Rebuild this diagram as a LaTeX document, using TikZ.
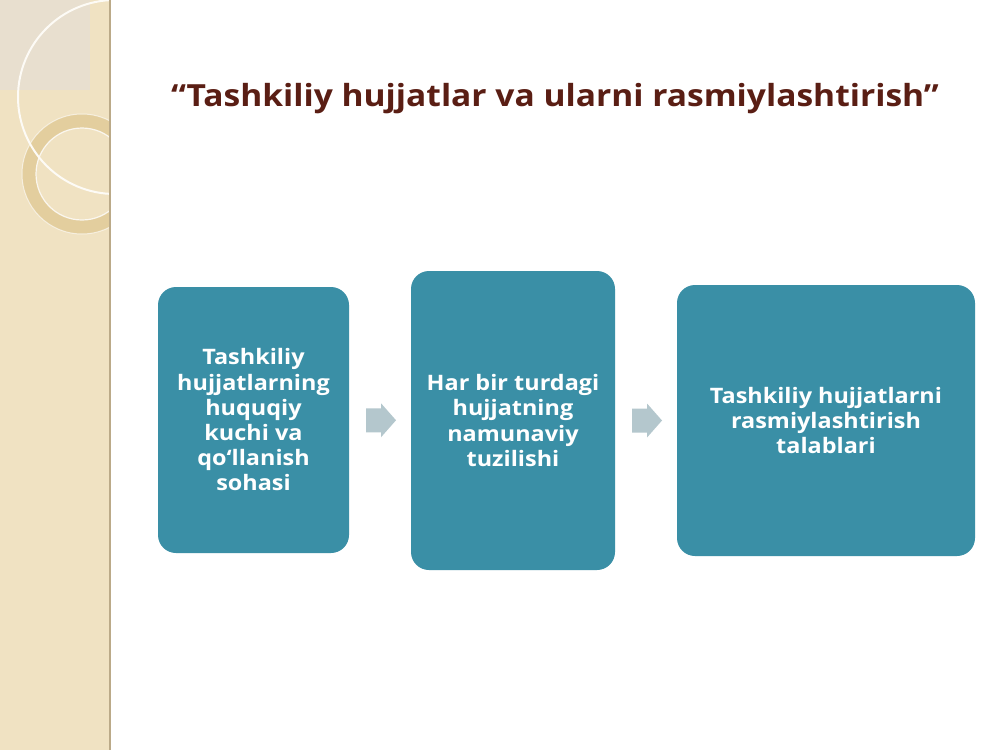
\documentclass[tikz,border=0pt]{standalone}
\usepackage{fontspec}
\setmainfont[FakeStretch=1.1]{Open Sans}
\usetikzlibrary{calc}
\definecolor{teal1}{HTML}{3A8FA6}
\definecolor{arrowc}{HTML}{B4C7CD}
\definecolor{titlec}{HTML}{5A1E14}
\definecolor{stripc}{HTML}{F0E2C2}
\definecolor{stripgray}{HTML}{E8DFCF}
\definecolor{ringc}{HTML}{E3CE9E}
\definecolor{edgec}{HTML}{BBAA88}
\tikzset{
  stepbox/.style={fill=teal1, rounded corners=18pt, text=white, align=center,
    font=\fontsize{21.3}{25.2}\selectfont\bfseries, inner sep=0pt},
  blockarrow/.style={fill=arrowc, draw=none},
  titletext/.style={font=\fontsize{30.5}{36}\selectfont\bfseries, inner sep=0pt}
}
\begin{document}
\begin{tikzpicture}[x=1pt,y=-1pt]
\useasboundingbox (0,0) rectangle (1000,750);
\fill[white] (0,0) rectangle (1000,750);
% left decorative strip
\fill[stripc] (0,0) rectangle (110,750);
\begin{scope}
  \clip (0,0) rectangle (109,750);
  \fill[stripgray] (0,0) rectangle (90,90);
  \fill[ringc, even odd rule] (82,174) circle[radius=60] (82,174) circle[radius=46];
  \draw[white, line width=1.2pt, opacity=0.8] (82,174) circle[radius=46];
  \draw[white, line width=1pt, opacity=0.6] (82,174) circle[radius=60];
  \draw[white!85!stripc, line width=2pt] (115,97) circle[radius=97];
\end{scope}
\draw[edgec, line width=2pt] (109.5,0) -- (109.5,750);
% title
\node[titletext, text=titlec, anchor=base] (title) at (555,106)
  {“Tashkiliy hujjatlar va ularni rasmiylashtirish”};
% boxes
\node[stepbox, minimum width=191pt, minimum height=266pt] (b1) at (253.5,420)
  {Tashkiliy\\hujjatlarning\\huquqiy\\kuchi va\\qo‘llanish\\sohasi};
\node[stepbox, minimum width=204pt, minimum height=299pt] (b2) at (513,420.5)
  {Har bir turdagi\\hujjatning\\namunaviy\\tuzilishi};
\node[stepbox, minimum width=298pt, minimum height=271pt] (b3) at (826,420.5)
  {Tashkiliy hujjatlarni\\rasmiylashtirish\\talablari};
% block arrows
\coordinate (a1) at ($(b1.east)!0.5!(b2.west)+(1,0)$);
\coordinate (a2) at ($(b2.east)!0.5!(b3.west)+(1,0)$);
\foreach \c in {a1,a2}{
  \fill[blockarrow] (\c) ++(-15,-12) -- ++(15,0) -- ++(0,-5) -- ++(15,17)
    -- ++(-15,17) -- ++(0,-5) -- ++(-15,0) -- cycle;
}
\end{tikzpicture}
\end{document}
